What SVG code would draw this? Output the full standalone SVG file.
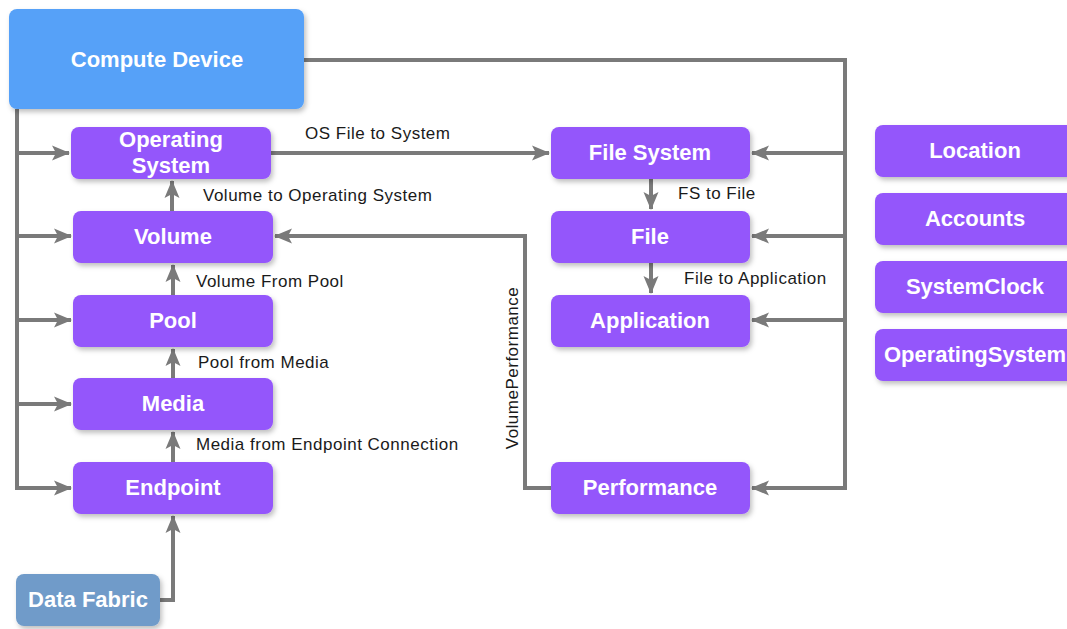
<svg xmlns="http://www.w3.org/2000/svg" width="1067" height="629" viewBox="0 0 1067 629">
<defs>
<filter id="sh" x="-10%" y="-10%" width="130%" height="140%">
<feDropShadow dx="2" dy="3" stdDeviation="2.5" flood-color="#000" flood-opacity="0.25"/>
</filter>
<marker id="ah" markerUnits="userSpaceOnUse" markerWidth="18" markerHeight="18" refX="17" refY="9" orient="auto">
<path d="M0,1.5 L18,9 L0,16.5 L4,9 z" fill="#7a7a7a"/>
</marker>
</defs>
<style>
.n{fill:#9457FB;filter:url(#sh)}
.cd{fill:#56A1F8;filter:url(#sh)}
.df{fill:#6F9BC9;filter:url(#sh)}
.t{font-family:"Liberation Sans",Arial,sans-serif;font-weight:bold;font-size:22px;fill:#fff;text-anchor:middle}
.l{font-family:"Liberation Sans",Arial,sans-serif;font-size:17px;letter-spacing:0.5px;fill:#1a1a1a}
.c{fill:none;stroke:#7a7a7a;stroke-width:4}
.a{marker-end:url(#ah)}
</style>
<g id="connectors">
<path class="c a" d="M17,109 V488 H71"/>
<path class="c a" d="M17,153 H69"/>
<path class="c a" d="M17,236 H71"/>
<path class="c a" d="M17,320 H71"/>
<path class="c a" d="M17,404 H71"/>
<path class="c a" d="M304,60 H845 V488 H752"/>
<path class="c a" d="M845,153 H752"/>
<path class="c a" d="M845,236 H752"/>
<path class="c a" d="M845,320 H752"/>
<path class="c a" d="M271,153 H549"/>
<path class="c a" d="M172,211 V181"/>
<path class="c a" d="M173,295 V265"/>
<path class="c a" d="M173,378 V349"/>
<path class="c a" d="M173,462 V432"/>
<path class="c a" d="M160,600 H173 V516"/>
<path class="c a" d="M651,179 V209"/>
<path class="c a" d="M651,263 V293"/>
<path class="c a" d="M551,488 H525 V236 H275"/>
<text class="l" x="305" y="139">OS File to System</text>
<text class="l" x="203" y="201">Volume to Operating System</text>
<text class="l" x="196" y="287">Volume From Pool</text>
<text class="l" x="198" y="368">Pool from Media</text>
<text class="l" x="196" y="450">Media from Endpoint Connection</text>
<text class="l" x="678" y="199">FS to File</text>
<text class="l" x="684" y="284">File to Application</text>
<text class="l" transform="translate(518,368) rotate(-90)" text-anchor="middle">VolumePerformance</text>
</g>
<g id="compute-device"><rect class="cd" x="9" y="9" width="295" height="100" rx="8"/><text class="t" x="157" y="67" font-size="23">Compute Device</text></g>
<g id="operating-system"><rect class="n" x="71" y="127" width="200" height="52" rx="8"/><text class="t" x="171" y="147">Operating</text><text class="t" x="171" y="173">System</text></g>
<g id="volume"><rect class="n" x="73" y="211" width="200" height="52" rx="8"/><text class="t" x="173" y="244">Volume</text></g>
<g id="pool"><rect class="n" x="73" y="295" width="200" height="52" rx="8"/><text class="t" x="173" y="328">Pool</text></g>
<g id="media"><rect class="n" x="73" y="378" width="200" height="52" rx="8"/><text class="t" x="173" y="411">Media</text></g>
<g id="endpoint"><rect class="n" x="73" y="462" width="200" height="52" rx="8"/><text class="t" x="173" y="495">Endpoint</text></g>
<g id="data-fabric"><rect class="df" x="16" y="574" width="144" height="52" rx="8"/><text class="t" x="88" y="607">Data Fabric</text></g>
<g id="file-system"><rect class="n" x="551" y="127" width="199" height="52" rx="8"/><text class="t" x="650" y="160">File System</text></g>
<g id="file"><rect class="n" x="551" y="211" width="199" height="52" rx="8"/><text class="t" x="650" y="244">File</text></g>
<g id="application"><rect class="n" x="551" y="295" width="199" height="52" rx="8"/><text class="t" x="650" y="328">Application</text></g>
<g id="performance"><rect class="n" x="551" y="462" width="199" height="52" rx="8"/><text class="t" x="650" y="495">Performance</text></g>
<g id="location"><rect class="n" x="875" y="125" width="200" height="52" rx="8"/><text class="t" x="975" y="158">Location</text></g>
<g id="accounts"><rect class="n" x="875" y="193" width="200" height="52" rx="8"/><text class="t" x="975" y="226">Accounts</text></g>
<g id="systemclock"><rect class="n" x="875" y="261" width="200" height="52" rx="8"/><text class="t" x="975" y="294">SystemClock</text></g>
<g id="operatingsystem-2"><rect class="n" x="875" y="329" width="200" height="52" rx="8"/><text class="t" x="975" y="362">OperatingSystem</text></g>
</svg>
